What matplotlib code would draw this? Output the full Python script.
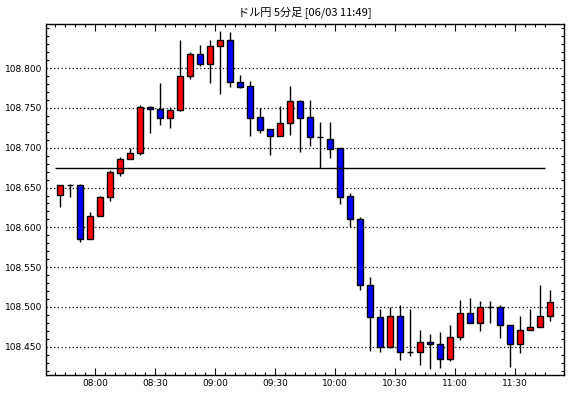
import numpy as np
import pandas as pd
import matplotlib
matplotlib.use('Agg')
import matplotlib.pyplot as plt
from matplotlib.ticker import MultipleLocator, FixedLocator

plt.rcParams['font.family'] = ['Noto Sans CJK JP', 'DejaVu Sans']

# 5-minute USD/JPY candles
opens = [108.641, 108.653, 108.653, 108.585, 108.614, 108.638, 108.668, 108.686, 108.694, 108.751,
         108.749, 108.737, 108.748, 108.790, 108.818, 108.805, 108.828, 108.835, 108.783, 108.777,
         108.739, 108.724, 108.715, 108.731, 108.759, 108.739, 108.713, 108.711, 108.700, 108.639,
         108.610, 108.527, 108.487, 108.450, 108.489, 108.444, 108.444, 108.456, 108.453, 108.435,
         108.462, 108.492, 108.480, 108.500, 108.500, 108.477, 108.454, 108.471, 108.475, 108.489]
highs = [108.653, 108.655, 108.654, 108.619, 108.640, 108.672, 108.688, 108.700, 108.754, 108.752,
         108.782, 108.751, 108.835, 108.820, 108.829, 108.835, 108.847, 108.846, 108.792, 108.784,
         108.750, 108.724, 108.753, 108.778, 108.760, 108.760, 108.732, 108.733, 108.700, 108.643,
         108.613, 108.538, 108.497, 108.500, 108.502, 108.497, 108.471, 108.466, 108.468, 108.477,
         108.509, 108.511, 108.507, 108.508, 108.502, 108.477, 108.489, 108.498, 108.527, 108.521]
lows = [108.625, 108.638, 108.581, 108.585, 108.614, 108.633, 108.665, 108.686, 108.691, 108.718,
        108.728, 108.725, 108.746, 108.786, 108.803, 108.781, 108.767, 108.776, 108.775, 108.715,
        108.718, 108.691, 108.715, 108.716, 108.695, 108.702, 108.675, 108.687, 108.629, 108.600,
        108.521, 108.445, 108.443, 108.449, 108.433, 108.438, 108.427, 108.422, 108.423, 108.432,
        108.458, 108.480, 108.470, 108.480, 108.461, 108.424, 108.442, 108.471, 108.475, 108.482]
closes = [108.653, 108.653, 108.585, 108.614, 108.638, 108.669, 108.686, 108.694, 108.751, 108.749,
          108.737, 108.748, 108.790, 108.818, 108.805, 108.828, 108.835, 108.783, 108.776, 108.738,
          108.722, 108.715, 108.731, 108.759, 108.738, 108.713, 108.713, 108.698, 108.638, 108.610,
          108.527, 108.487, 108.450, 108.489, 108.444, 108.444, 108.456, 108.453, 108.435, 108.462,
          108.492, 108.480, 108.500, 108.500, 108.477, 108.453, 108.471, 108.475, 108.489, 108.506]

ref_level = 108.675
price_ticks = [108.45, 108.50, 108.55, 108.60, 108.65, 108.70, 108.75, 108.80]
title = 'ドル円 5分足 [06/03 11:49]'

times = pd.date_range('2019-06-03 07:40', periods=len(opens), freq='5min')
x = np.arange(len(opens))
o = np.array(opens)
c = np.array(closes)

fig = plt.figure(figsize=(5.7, 3.98), dpi=100)
ax = fig.add_axes([46 / 570, 23 / 398, 518 / 570, 351 / 398])

# wicks then bodies
ax.vlines(x, lows, highs, color='black', lw=1.0, zorder=2)
colors = np.where(c > o, '#ff0000', np.where(c < o, '#0000ff', 'black'))
ax.bar(x, np.abs(c - o), bottom=np.minimum(o, c), width=0.65, color=colors,
       edgecolor='black', linewidth=1.0, zorder=3)

ax.hlines(ref_level, -0.5, len(opens) - 1.5, color='black', lw=1.0, zorder=4)

ax.set_xlim(-1.4, len(opens) + 0.4)
ax.set_ylim(108.4145, 108.8555)

# y axis
ax.yaxis.set_major_locator(FixedLocator(price_ticks))
ax.yaxis.set_minor_locator(MultipleLocator(0.01))
ax.yaxis.set_major_formatter(plt.FuncFormatter(lambda v, p: f'{v:.3f}'))
ax.grid(axis='y', which='major', color='black', linestyle=(0, (1, 2)), lw=0.9)

# x axis: label each half hour at the left edge of its candle
major = [i - 0.5 for i, t in enumerate(times) if t.minute % 30 == 0]
labels = [t.strftime('%H:%M') for t in times if t.minute % 30 == 0]
ax.xaxis.set_major_locator(FixedLocator(major))
ax.set_xticklabels(labels)
ax.xaxis.set_minor_locator(FixedLocator(x - 0.5))

ax.tick_params(which='both', direction='in', top=True, right=True, labelsize=7,
               width=0.8, colors='black')
ax.tick_params(which='major', length=5)
ax.tick_params(which='minor', length=2.5)
ax.tick_params(axis='y', which='major', length=0, pad=3)
ax.tick_params(axis='x', which='major', pad=3)
for lab in ax.get_yticklabels() + ax.get_xticklabels():
    lab.set_family('DejaVu Sans')
    lab.set_fontsize(6.5)

for s in ax.spines.values():
    s.set_linewidth(1.0)

fig.text(305 / 570, 1 - 12 / 398, title, ha='center', va='center', fontsize=8)

fig.savefig('out.png', dpi=100)
